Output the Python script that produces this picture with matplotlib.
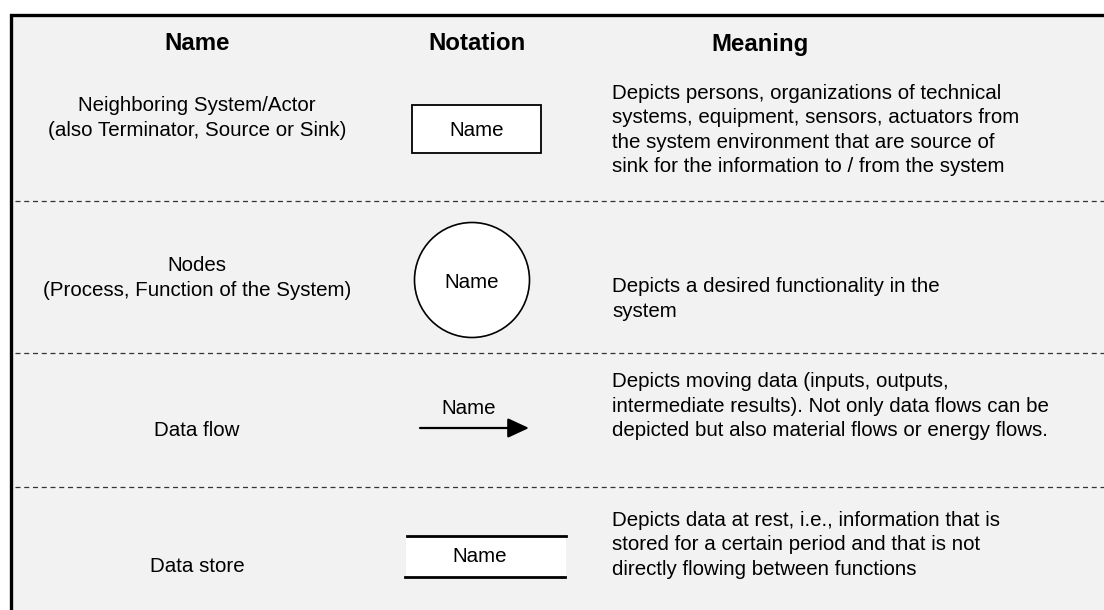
"""
Notation legend for context / data flow diagrams.
"""

import matplotlib
matplotlib.use("Agg")
import matplotlib.pyplot as plt
import matplotlib.patches as patches

plt.rcParams["font.family"] = ["Liberation Sans", "DejaVu Sans"]

HEADERS = ["Name", "Notation", "Meaning"]

NAMES = [
    ["Neighboring System/Actor", "(also Terminator, Source or Sink)"],
    ["Nodes", "(Process, Function of the System)"],
    ["Data flow"],
    ["Data store"],
]

MEANINGS = [
    ["Depicts persons, organizations of technical",
     "systems, equipment, sensors, actuators from",
     "the system environment that are source of",
     "sink for the information to / from the system"],
    ["Depicts a desired functionality in the",
     "system"],
    ["Depicts moving data (inputs, outputs,",
     "intermediate results). Not only data flows can be",
     "depicted but also material flows or energy flows."],
    ["Depicts data at rest, i.e., information that is",
     "stored for a certain period and that is not",
     "directly flowing between functions"],
]

NOTATION_LABEL = "Name"

# layout (pixels)
W, H = 1104, 610
ROW_CENTERS = [130, 299, 406, 545]
SEPARATORS = [201, 353, 487]
COL_X = [197, 477, 612]
LINE_H = 24.5
FS = 14.8

fig = plt.figure(figsize=(W / 100, H / 100), dpi=100)
ax = fig.add_axes([0, 0, 1, 1])
ax.set_xlim(0, W)
ax.set_ylim(H, 0)
ax.axis("off")

# frame
ax.add_patch(patches.Rectangle((10.5, 14.5), W + 20, H + 20,
                               facecolor="#f2f2f2", edgecolor="black", linewidth=2.4))

for y in SEPARATORS:
    ax.plot([15, W], [y, y], color="#333333", linewidth=0.9, linestyle=(0, (4, 3)))

for x, h in zip([COL_X[0], COL_X[1], 760], HEADERS):
    ax.text(x, 44, h, ha="center", va="center", fontsize=17.3, fontweight="bold")


def draw_lines(x, yc, lines, ha):
    n = len(lines)
    for i, line in enumerate(lines):
        y = yc + (i - (n - 1) / 2) * LINE_H
        ax.text(x, y, line, ha=ha, va="center", fontsize=FS)


name_centers = [118, 278, 431, 567]
for yc, lines in zip(name_centers, NAMES):
    draw_lines(COL_X[0], yc, lines, "center")

for yc, lines in zip(ROW_CENTERS, MEANINGS):
    draw_lines(COL_X[2], yc, lines, "left")

# notation: actor box
ax.add_patch(patches.Rectangle((412, 105), 129, 48, facecolor="white",
                               edgecolor="black", linewidth=1.3))
ax.text(476.5, 131, NOTATION_LABEL, ha="center", va="center", fontsize=FS)

# notation: node circle
ax.add_patch(patches.Circle((472, 280), 57.5, facecolor="white",
                            edgecolor="black", linewidth=1.2))
ax.text(472, 282, NOTATION_LABEL, ha="center", va="center", fontsize=FS)

# notation: data flow arrow
ax.annotate("", xy=(529, 428), xytext=(420, 428),
            arrowprops=dict(arrowstyle="-|>,head_length=1.3,head_width=0.6",
                            color="black", linewidth=1.6, shrinkA=0, shrinkB=0))
ax.text(469, 408, NOTATION_LABEL, ha="center", va="center", fontsize=FS)

# notation: data store
ax.add_patch(patches.Rectangle((406, 536), 160, 41, facecolor="white", edgecolor="none"))
ax.plot([407, 566], [536, 536], color="black", linewidth=2)
ax.plot([405, 565], [577, 577], color="black", linewidth=2)
ax.text(480, 557, NOTATION_LABEL, ha="center", va="center", fontsize=FS)

fig.savefig("out.png", dpi=100, facecolor="white")
plt.close(fig)
